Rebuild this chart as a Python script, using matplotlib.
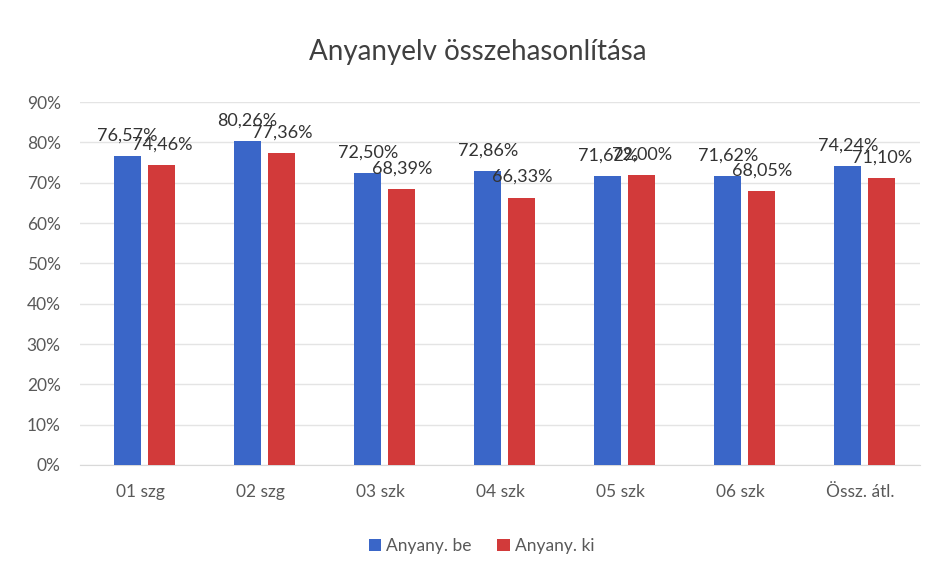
import matplotlib.pyplot as plt
import numpy as np

plt.rcParams['font.family'] = ['Lato', 'DejaVu Sans']

# adatok
kategoriak = ['01 szg', '02 szg', '03 szk', '04 szk', '05 szk', '06 szk', 'Össz. átl.']
anyany_be = [76.57, 80.26, 72.50, 72.86, 71.62, 71.62, 74.24]
anyany_ki = [74.46, 77.36, 68.39, 66.33, 72.00, 68.05, 71.10]

kek = '#3a66c8'
piros = '#d23a3a'
szurke = '#595959'

fig = plt.figure(figsize=(9.44, 5.74), dpi=100)
ax = fig.add_axes([0.085, 0.19, 0.89, 0.632])

x = np.arange(len(kategoriak))
w = 0.225
b1 = ax.bar(x - 0.105, anyany_be, w, color=kek, label='Anyany. be', zorder=3)
b2 = ax.bar(x + 0.18, anyany_ki, w, color=piros, label='Anyany. ki', zorder=3)

def felirat(bars, vals):
    for b, v in zip(bars, vals):
        ax.annotate(f'{v:.2f}%'.replace('.', ','),
                    (b.get_x() + b.get_width() / 2, v),
                    xytext=(0, 9), textcoords='offset points',
                    ha='center', va='bottom', fontsize=13, color='#333333', zorder=4)

felirat(b1, anyany_be)
felirat(b2, anyany_ki)

ax.set_ylim(0, 90)
ax.set_xlim(-0.5, len(kategoriak) - 0.5)
ax.set_yticks(range(0, 91, 10))
ax.set_yticklabels([f'{t}%' for t in range(0, 91, 10)])
ax.set_xticks(x)
ax.set_xticklabels(kategoriak)
ax.tick_params(axis='both', length=0, labelsize=12.5, colors=szurke)
ax.tick_params(axis='x', pad=14)
ax.tick_params(axis='y', pad=14)
ax.grid(axis='y', color='#e4e4e4', linewidth=1, zorder=0)
for s in ['top', 'right', 'left']:
    ax.spines[s].set_visible(False)
ax.spines['bottom'].set_color('#d9d9d9')

fig.text(0.506, 0.91, 'Anyanyelv összehasonlítása', ha='center', va='center',
         fontsize=20, color='#404040')

fig.legend(loc='center', bbox_to_anchor=(0.51, 0.048), ncol=2, frameon=False,
           fontsize=12.5, handlelength=0.7, handleheight=0.7, columnspacing=1.5,
           handletextpad=0.3, labelcolor=szurke)

fig.savefig('out.png', dpi=100, facecolor='white')
